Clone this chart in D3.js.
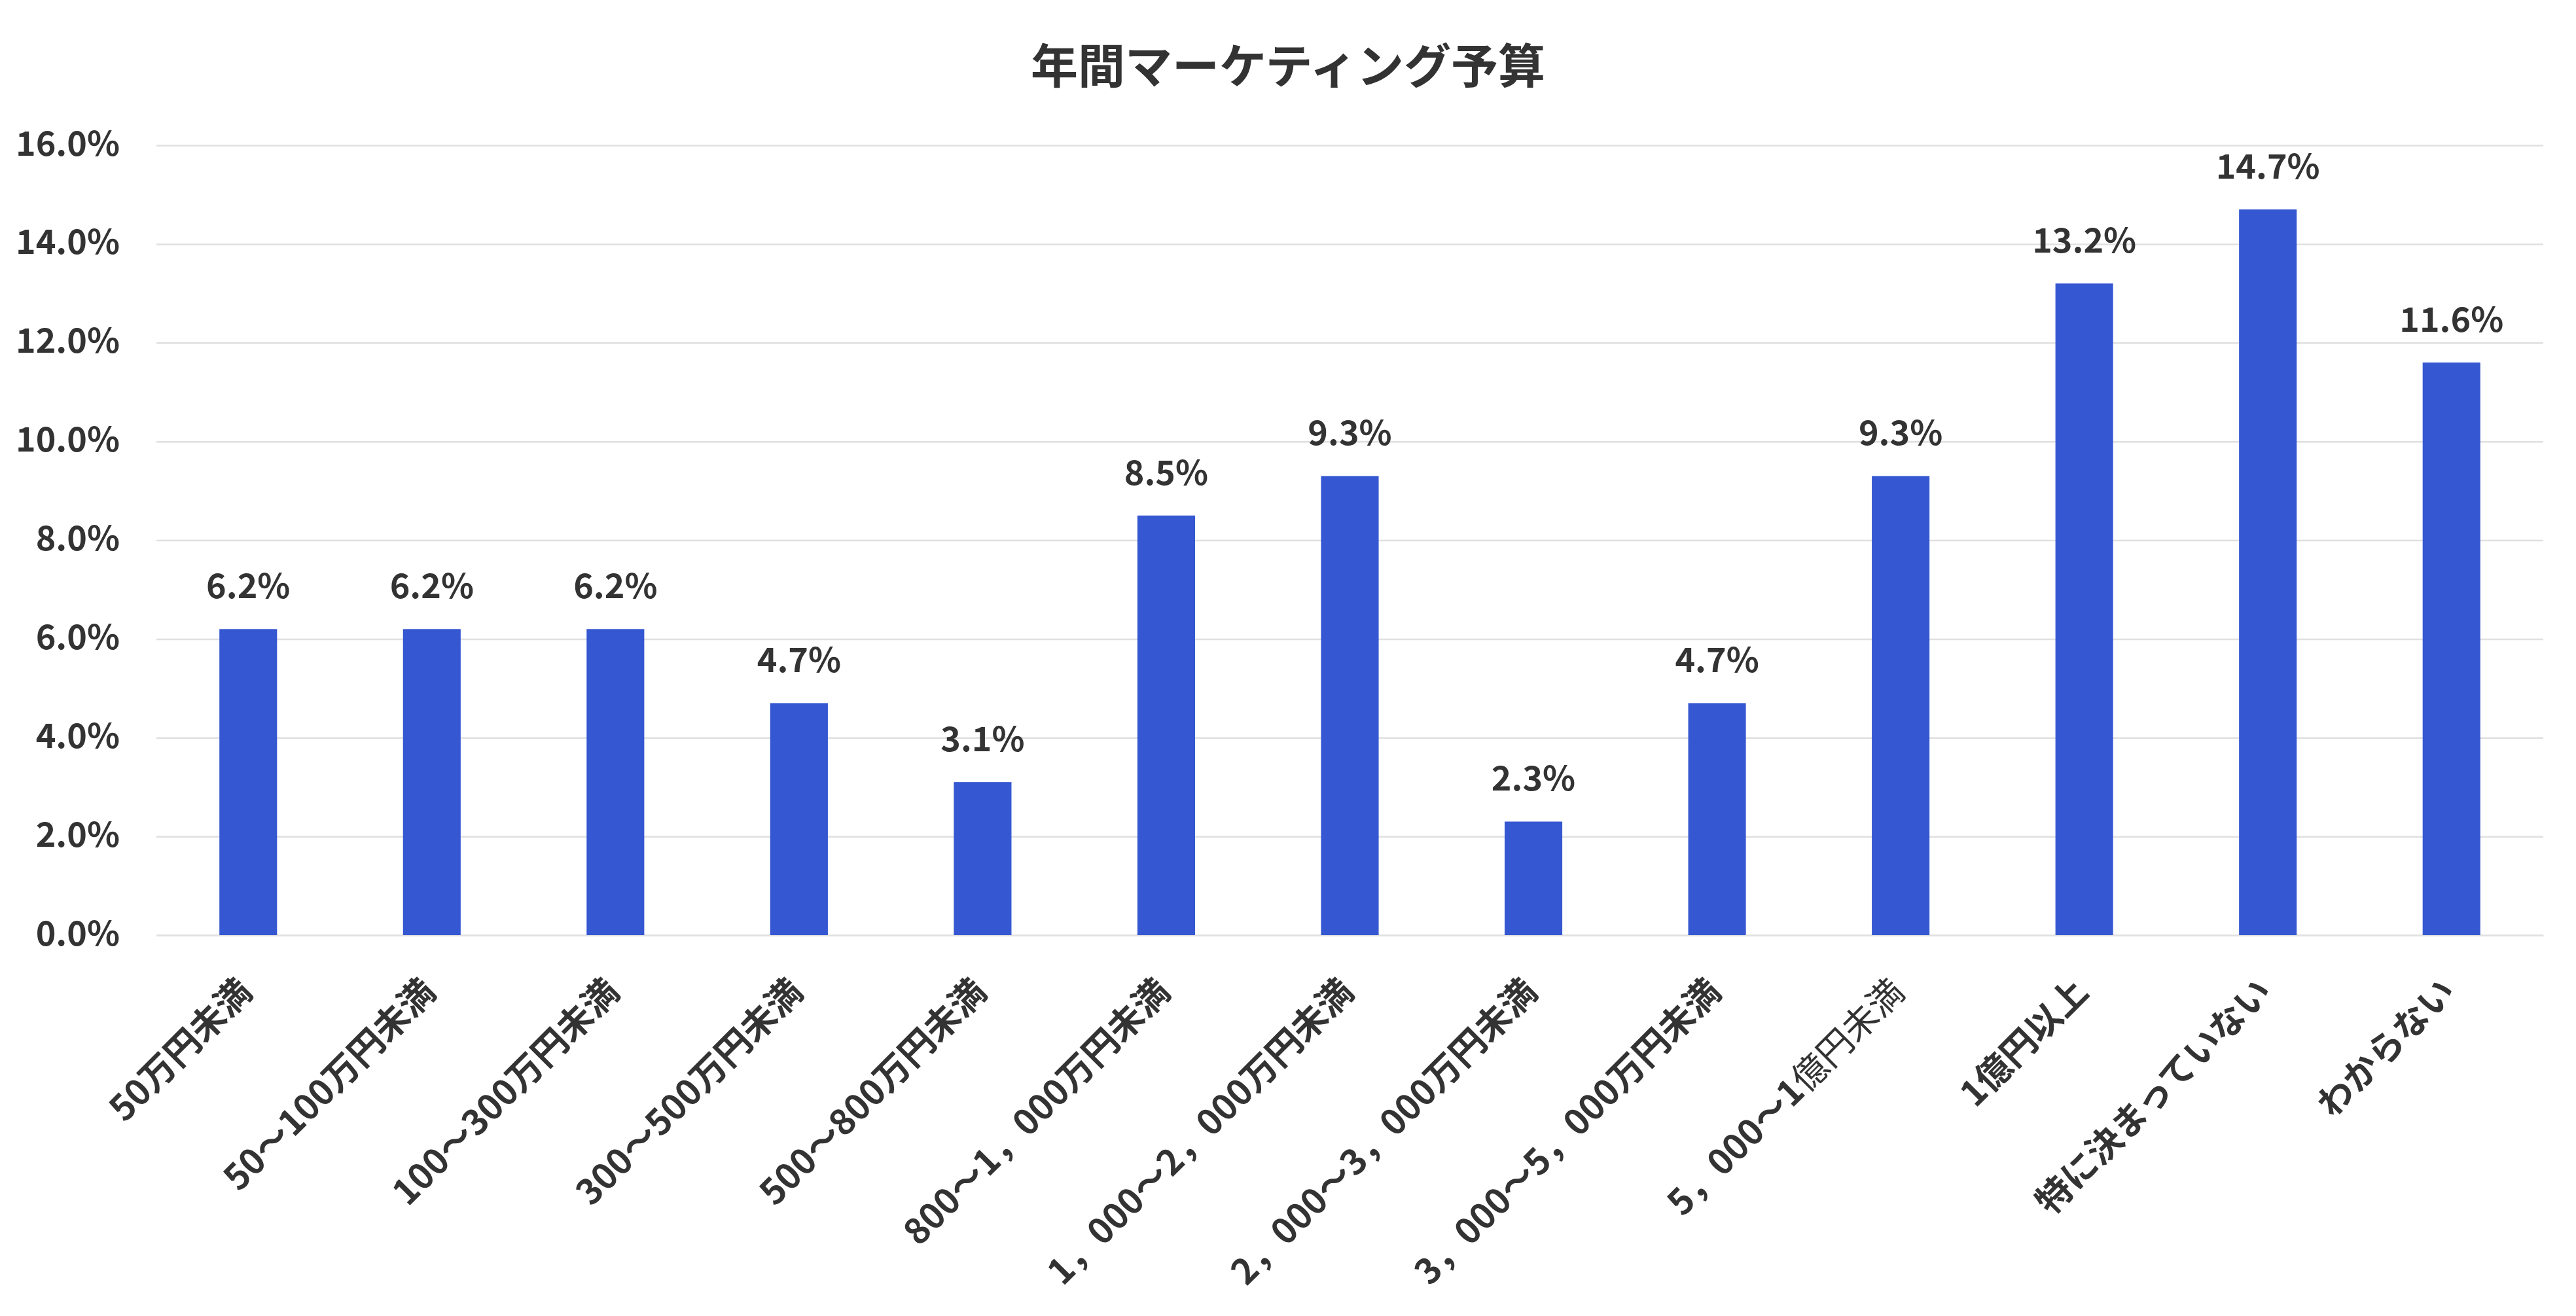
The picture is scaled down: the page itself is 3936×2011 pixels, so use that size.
<!DOCTYPE html>
<html>
<head>
<meta charset="utf-8">
<script src="https://cdn.jsdelivr.net/npm/d3@7"></script>
<style>
    body { margin: 0; background: #ffffff; }
    text { font-family: "Noto Sans CJK JP", "Noto Sans", sans-serif; fill: #333333; }
</style>
</head>
<body>
<svg id="chart"></svg>
<script>
var title = "年間マーケティング予算";
var categories = ["50万円未満", "50～100万円未満", "100～300万円未満", "300～500万円未満", "500～800万円未満",
    "800～1，000万円未満", "1，000～2，000万円未満", "2，000～3，000万円未満", "3，000～5，000万円未満",
    "5，000～1億円未満", "1億円以上", "特に決まっていない", "わからない"];
var values = [6.2, 6.2, 6.2, 4.7, 3.1, 8.5, 9.3, 2.3, 4.7, 9.3, 13.2, 14.7, 11.6];
var yTicks = [0, 2, 4, 6, 8, 10, 12, 14, 16];

var W = 3936, H = 2011;
var margin = { top: 222, right: 50, bottom: 582, left: 239 };
var width = W - margin.left - margin.right;
var height = H - margin.top - margin.bottom;

var svg = d3.select("#chart")
    .attr("width", W)
    .attr("height", H);

svg.append("text")
    .attr("x", 1968)
    .attr("y", 95)
    .attr("text-anchor", "middle")
    .attr("dominant-baseline", "central")
    .style("font-size", "72px")
    .style("font-weight", "bold")
    .text(title);

var g = svg.append("g")
    .attr("transform", "translate(" + margin.left + "," + margin.top + ")");

var x = d3.scaleBand()
    .domain(categories)
    .range([0, width])
    .paddingInner(0.686)
    .paddingOuter(0.343);

var y = d3.scaleLinear()
    .domain([0, 16])
    .range([height, 0]);

// y axis with gridlines
var yAxis = g.append("g")
    .call(d3.axisLeft(y)
        .tickValues(yTicks)
        .tickSize(-width)
        .tickPadding(56)
        .tickFormat(function (d) { return d.toFixed(1) + "%"; }));

yAxis.select(".domain").remove();
yAxis.selectAll(".tick line")
    .attr("stroke", "#e0e0e0")
    .attr("stroke-width", 2.5);
yAxis.selectAll(".tick text")
    .attr("dy", "0.29em")
    .style("font-size", "52px")
    .style("font-weight", "bold");

// x axis, rotated labels
var xAxis = g.append("g")
    .attr("transform", "translate(0," + height + ")")
    .call(d3.axisBottom(x).tickSize(0).tickPadding(0));

xAxis.select(".domain")
    .attr("stroke", "#e0e0e0")
    .attr("stroke-width", 2.5);

xAxis.selectAll(".tick text")
    .attr("y", null)
    .attr("dy", null)
    .attr("text-anchor", "end")
    .attr("transform", "translate(9,90) rotate(-45)")
    .style("font-size", "54px")
    .style("font-weight", "bold")
    .each(function (d) {
        // this one mixes weights in the source
        if (d === categories[9]) {
            var t = d3.select(this).text(null);
            t.append("tspan").text("5，000～1");
            t.append("tspan").style("font-weight", "normal").text("億円未満");
        }
    });

// bars
g.selectAll("rect.bar")
    .data(values)
    .enter()
    .append("rect")
    .attr("class", "bar")
    .attr("x", function (d, i) { return x(categories[i]); })
    .attr("y", function (d) { return y(d); })
    .attr("width", x.bandwidth())
    .attr("height", function (d) { return height - y(d); })
    .attr("fill", "#3557d1");

// value labels
g.selectAll("text.val")
    .data(values)
    .enter()
    .append("text")
    .attr("class", "val")
    .attr("x", function (d, i) { return x(categories[i]) + x.bandwidth() / 2; })
    .attr("y", function (d) { return y(d) - 47; })
    .attr("text-anchor", "middle")
    .style("font-size", "52px")
    .style("font-weight", "bold")
    .text(function (d) { return d.toFixed(1) + "%"; });
</script>
</body>
</html>
